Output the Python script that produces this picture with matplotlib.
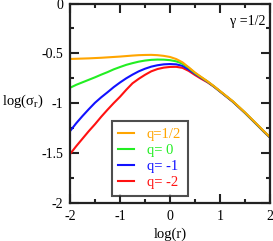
import matplotlib
matplotlib.use("Agg")
import matplotlib.pyplot as plt
from matplotlib.ticker import MultipleLocator, FuncFormatter

plt.rcParams['font.family'] = ['Liberation Serif', 'DejaVu Serif']
plt.rcParams['mathtext.fontset'] = 'custom'
plt.rcParams['mathtext.rm'] = 'Liberation Serif'
plt.rcParams['mathtext.it'] = 'Liberation Serif'
plt.rcParams['axes.unicode_minus'] = False

log_r = [-2.0, -1.875, -1.75, -1.625, -1.5, -1.375, -1.25, -1.125, -1.0,
         -0.875, -0.75, -0.625, -0.5, -0.375, -0.25, -0.125, 0.0,
         0.125, 0.25, 0.375, 0.5, 0.625, 0.75, 0.875, 1.0,
         1.125, 1.25, 1.375, 1.5, 1.625, 1.75, 1.875, 2.0]

sigma_q_half = [-0.556, -0.554, -0.552, -0.550, -0.547, -0.544, -0.540, -0.536, -0.532,
                -0.527, -0.522, -0.518, -0.516, -0.515, -0.518, -0.525, -0.536,
                -0.557, -0.590, -0.640, -0.692, -0.737, -0.780, -0.827, -0.877,
                -0.927, -0.977, -1.034, -1.092, -1.154, -1.216, -1.279, -1.339]
sigma_q_0 = [-0.845, -0.815, -0.790, -0.765, -0.740, -0.713, -0.688, -0.660, -0.637,
             -0.615, -0.598, -0.583, -0.572, -0.565, -0.562, -0.563, -0.568,
             -0.580, -0.603, -0.645, -0.698, -0.740, -0.782, -0.829, -0.879,
             -0.929, -0.979, -1.036, -1.094, -1.156, -1.218, -1.281, -1.341]
sigma_q_m1 = [-1.280, -1.200, -1.128, -1.060, -0.995, -0.940, -0.890, -0.838, -0.792,
              -0.750, -0.713, -0.680, -0.654, -0.633, -0.619, -0.610, -0.607,
              -0.610, -0.625, -0.662, -0.705, -0.745, -0.785, -0.831, -0.881,
              -0.931, -0.981, -1.038, -1.096, -1.158, -1.220, -1.283, -1.343]
sigma_q_m2 = [-1.510, -1.430, -1.355, -1.280, -1.210, -1.135, -1.065, -0.998, -0.935,
              -0.865, -0.800, -0.755, -0.715, -0.680, -0.657, -0.643, -0.636,
              -0.635, -0.645, -0.676, -0.717, -0.755, -0.790, -0.833, -0.883,
              -0.933, -0.983, -1.040, -1.098, -1.160, -1.222, -1.285, -1.345]

labels = ["q=1/2", "q= 0", "q= -1", "q= -2"]
colors = ["#FFA500", "#22EE22", "#1111FF", "#FF1111"]
series = [sigma_q_half, sigma_q_0, sigma_q_m1, sigma_q_m2]

fig = plt.figure(figsize=(2.73, 2.41), dpi=100)
ax = fig.add_axes([70/273, 1-203/241, 200/273, 199.5/241])

lines = {}
for lab, col, ys in reversed(list(zip(labels, colors, series))):
    ln, = ax.plot(log_r, ys, color=col, lw=1.5, label=lab, solid_joinstyle='round')
    lines[lab] = ln

ax.set_xlim(-2, 2)
ax.set_ylim(-2, 0)
ax.xaxis.set_major_locator(MultipleLocator(1))
ax.xaxis.set_minor_locator(MultipleLocator(0.5))
ax.yaxis.set_major_locator(MultipleLocator(0.5))
ax.yaxis.set_minor_locator(MultipleLocator(0.25))
fmt = FuncFormatter(lambda v, p: "%g" % v)
ax.xaxis.set_major_formatter(fmt)
ax.yaxis.set_major_formatter(fmt)
ax.tick_params(which='both', direction='in', top=True, right=True, width=1.5, color='#222222')
ax.tick_params(which='major', length=6.5, labelsize=10, pad=5)
ax.tick_params(which='minor', length=3.2)
for s in ax.spines.values():
    s.set_linewidth(1.6)
    s.set_color('#222222')

ax.set_xlabel("log(r)", fontsize=10.5, labelpad=3)
fig.text(2/273, 1-101/241, r"log($\sigma_{\rm r}$)", fontsize=10.5, ha='left', va='center')
ax.text(0.975, 0.912, "\u03b3 =1/2", transform=ax.transAxes, ha='right', va='center', fontsize=10)

handles = [lines[l] for l in labels]
leg = ax.legend(handles, labels, loc='lower left', bbox_to_anchor=(0.2085, 0.035),
                frameon=True, fancybox=False, edgecolor='#222222', fontsize=10.5,
                handlelength=1.1, handletextpad=0.85, borderpad=0.45, labelspacing=0.2,
                borderaxespad=0)
leg.get_frame().set_linewidth(1.5)
for txt, col in zip(leg.get_texts(), colors):
    txt.set_color(col)

fig.savefig("out.png", dpi=100)
